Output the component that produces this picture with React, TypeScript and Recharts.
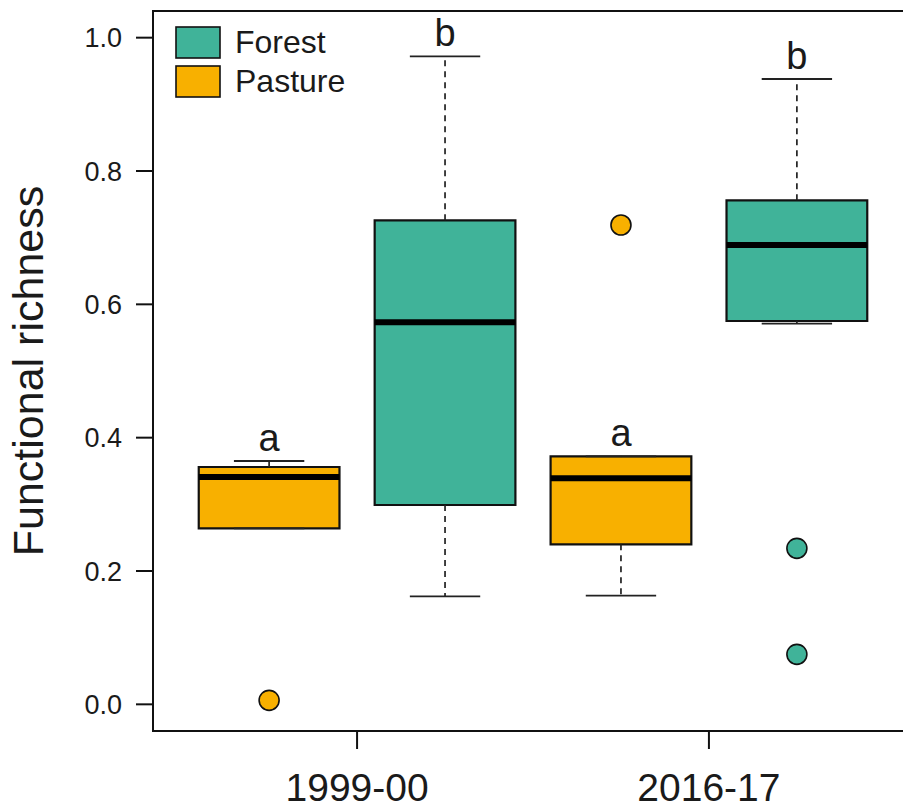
import React from 'react';
import {
  ComposedChart,
  XAxis,
  YAxis,
  Scatter,
  ReferenceArea,
  ReferenceLine,
} from 'recharts';

// ---- data ----
const periods = ['1999-00', '2016-17'];
const periodTickPositions = [1.5, 3.5];
const boxGroups = ['Pasture', 'Forest', 'Pasture', 'Forest'];
const boxPositions = [1, 2, 3, 4];
const lowerWhisker = [0.264, 0.162, 0.163, 0.571];
const q1 = [0.264, 0.299, 0.24, 0.575];
const median = [0.341, 0.573, 0.339, 0.689];
const q3 = [0.356, 0.726, 0.372, 0.756];
const upperWhisker = [0.365, 0.972, 0.372, 0.938];
const letters = ['a', 'b', 'a', 'b'];
const outlierPositions = [1, 3, 4, 4];
const outlierValues = [0.006, 0.719, 0.234, 0.075];
const outlierGroups = ['Pasture', 'Pasture', 'Forest', 'Forest'];
const yTicks = [0, 0.2, 0.4, 0.6, 0.8, 1.0];
const legendItems = ['Forest', 'Pasture'];

const COLORS: Record<string, string> = { Forest: '#40B399', Pasture: '#F8B000' };
const FONT = '"Liberation Sans", Arial, Helvetica, sans-serif';
const X_DOMAIN: [number, number] = [0.34, 4.66];
const Y_DOMAIN: [number, number] = [-0.04, 1.04];
const BOX_HALF = 0.4;
const CAP_HALF = 0.2;

const outlierData = outlierPositions.map((x, i) => ({ x, y: outlierValues[i], group: outlierGroups[i] }));
const letterData = boxPositions.map((x, i) => ({ x, y: upperWhisker[i], letter: letters[i] }));

const OutlierShape = (props: any) => {
  const { cx, cy, payload } = props;
  if (cx == null || cy == null) return null;
  return <circle cx={cx} cy={cy} r={10} fill={COLORS[payload.group]} stroke="#111" strokeWidth={1.6} />;
};

const LetterShape = (props: any) => {
  const { cx, cy, payload } = props;
  if (cx == null || cy == null) return null;
  return (
    <text x={cx} y={cy} dy={-10} textAnchor="middle" fontSize={38} fontFamily={FONT} fill="#1a1a1a">
      {payload.letter}
    </text>
  );
};

const YLabel = () => {
  const cy = 11 + 360;
  return (
    <text
      x={43}
      y={cy}
      transform={`rotate(-90, 43, ${cy})`}
      textAnchor="middle"
      fontSize={43}
      fontFamily={FONT}
      fill="#1a1a1a"
    >
      Functional richness
    </text>
  );
};

export default function App() {
  return (
    <div style={{ position: 'absolute', left: 0, top: 0, width: 903, height: 809, overflow: 'hidden', background: '#fff' }}>
      <ComposedChart width={960} height={809} margin={{ top: 11, right: 47, bottom: 0, left: 0 }}>
        <XAxis
          type="number"
          dataKey="x"
          domain={X_DOMAIN}
          allowDataOverflow
          ticks={periodTickPositions}
          tickFormatter={(v: number) => periods[periodTickPositions.indexOf(v)] ?? ''}
          height={78}
          tickSize={18}
          tickMargin={24}
          axisLine={{ stroke: '#111', strokeWidth: 2 }}
          tickLine={{ stroke: '#111', strokeWidth: 2 }}
          tick={{ fontSize: 39, fontFamily: FONT, fill: '#1a1a1a' }}
        />
        <YAxis
          type="number"
          dataKey="y"
          domain={Y_DOMAIN}
          allowDataOverflow
          ticks={yTicks}
          tickFormatter={(v: number) => v.toFixed(1)}
          width={153}
          tickSize={17}
          tickMargin={14}
          axisLine={{ stroke: '#111', strokeWidth: 2 }}
          tickLine={{ stroke: '#111', strokeWidth: 2 }}
          tick={{ fontSize: 27, fontFamily: FONT, fill: '#1a1a1a' }}
          label={<YLabel />}
        />
        {/* plot frame */}
        <ReferenceArea
          x1={X_DOMAIN[0]}
          x2={X_DOMAIN[1]}
          y1={Y_DOMAIN[0]}
          y2={Y_DOMAIN[1]}
          fill="none"
          fillOpacity={0}
          stroke="#111"
          strokeWidth={2}
          ifOverflow="visible"
        />
        {/* whiskers */}
        {boxPositions.map((x, i) => (
          <ReferenceLine
            key={`wu${i}`}
            segment={[{ x, y: q3[i] }, { x, y: upperWhisker[i] }]}
            stroke="#222"
            strokeWidth={1.7}
            strokeDasharray="6 5"
          />
        ))}
        {boxPositions.map((x, i) => (
          <ReferenceLine
            key={`wl${i}`}
            segment={[{ x, y: q1[i] }, { x, y: lowerWhisker[i] }]}
            stroke="#222"
            strokeWidth={1.7}
            strokeDasharray="6 5"
          />
        ))}
        {boxPositions.map((x, i) => (
          <ReferenceLine
            key={`cu${i}`}
            segment={[{ x: x - CAP_HALF, y: upperWhisker[i] }, { x: x + CAP_HALF, y: upperWhisker[i] }]}
            stroke="#222"
            strokeWidth={1.8}
          />
        ))}
        {boxPositions.map((x, i) => (
          <ReferenceLine
            key={`cl${i}`}
            segment={[{ x: x - CAP_HALF, y: lowerWhisker[i] }, { x: x + CAP_HALF, y: lowerWhisker[i] }]}
            stroke="#222"
            strokeWidth={1.8}
          />
        ))}
        {/* boxes */}
        {boxPositions.map((x, i) => (
          <ReferenceArea
            key={`b${i}`}
            x1={x - BOX_HALF}
            x2={x + BOX_HALF}
            y1={q1[i]}
            y2={q3[i]}
            fill={COLORS[boxGroups[i]]}
            fillOpacity={1}
            stroke="#111"
            strokeWidth={2.2}
          />
        ))}
        {/* medians */}
        {boxPositions.map((x, i) => (
          <ReferenceLine
            key={`m${i}`}
            segment={[{ x: x - BOX_HALF, y: median[i] }, { x: x + BOX_HALF, y: median[i] }]}
            stroke="#000"
            strokeWidth={6}
          />
        ))}
        <Scatter data={outlierData} dataKey="y" shape={<OutlierShape />} isAnimationActive={false} />
        <Scatter data={letterData} dataKey="y" shape={<LetterShape />} isAnimationActive={false} />
      </ComposedChart>
      <svg width={400} height={120} style={{ position: 'absolute', left: 0, top: 0 }}>
        {legendItems.map((name, i) => (
          <g key={name}>
            <rect x={176} y={27 + i * 39} width={44} height={31} fill={COLORS[name]} stroke="#111" strokeWidth={1.6} />
            <text x={235} y={53 + i * 38.5} fontSize={32} fontFamily={FONT} fill="#1a1a1a">
              {name}
            </text>
          </g>
        ))}
      </svg>
    </div>
  );
}
